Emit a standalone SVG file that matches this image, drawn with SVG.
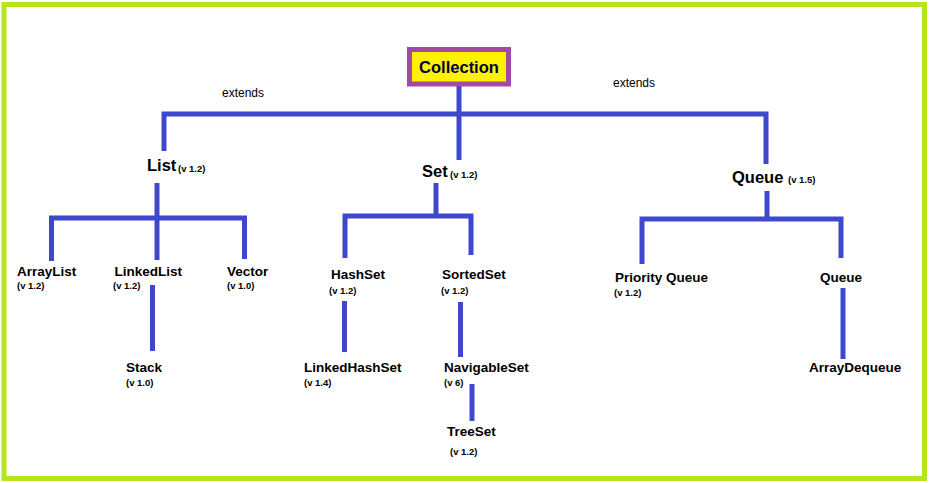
<svg xmlns="http://www.w3.org/2000/svg" width="929" height="483" viewBox="0 0 929 483">
<style>
.frame{fill:#fff;stroke:#b5e61d;stroke-width:5}
.root{fill:#fff200;stroke:#a349a4;stroke-width:5}
.c{fill:none;stroke:#3f48cc;stroke-width:5;stroke-linejoin:miter}
text{font-family:"Liberation Sans",Arial,sans-serif;fill:#000}
.big{font-size:16.5px;font-weight:bold}
.nm{font-size:13.5px;font-weight:bold}
.v{font-size:9.5px;font-weight:bold}
.ext{font-size:12px}
</style>
<rect x="0" y="0" width="929" height="483" fill="#fff"/>
<rect class="frame" x="4" y="4.5" width="920.5" height="474"/>
<g id="connectors">
<path class="c" d="M459 86V160"/>
<path class="c" d="M164 151V114H766V164"/>
<path class="c" d="M157 183V260"/>
<path class="c" d="M51.5 261V218H244.5V259"/>
<path class="c" d="M152.5 285V351"/>
<path class="c" d="M436 183V216"/>
<path class="c" d="M345 258V216H471V255"/>
<path class="c" d="M344.5 301V352"/>
<path class="c" d="M460.5 302V357"/>
<path class="c" d="M472 384V421"/>
<path class="c" d="M767 191V219"/>
<path class="c" d="M642 264V219H841V258"/>
<path class="c" d="M843 288V359"/>
</g>
<g id="labels">
<text class="ext" x="222" y="97">extends</text>
<text class="ext" x="613" y="87">extends</text>
</g>
<g id="collection">
<rect class="root" x="409.5" y="49.5" width="99" height="34.5"/>
<text class="big" x="459" y="73" text-anchor="middle" style="fill:#00003a">Collection</text>
</g>
<g id="list"><text class="big" x="147" y="171">List</text><text class="v" x="178" y="172">(v 1.2)</text></g>
<g id="set"><text class="big" x="422" y="177">Set</text><text class="v" x="450" y="178">(v 1.2)</text></g>
<g id="queue"><text class="big" x="732" y="183">Queue</text><text class="v" x="788" y="183">(v 1.5)</text></g>
<g id="arraylist"><text class="nm" x="17" y="276">ArrayList</text><text class="v" x="17" y="289">(v 1.2)</text></g>
<g id="linkedlist"><text class="nm" x="114.5" y="276">LinkedList</text><text class="v" x="113" y="289">(v 1.2)</text></g>
<g id="vector"><text class="nm" x="227" y="276">Vector</text><text class="v" x="227" y="289">(v 1.0)</text></g>
<g id="stack"><text class="nm" x="126" y="372">Stack</text><text class="v" x="126" y="386">(v 1.0)</text></g>
<g id="hashset"><text class="nm" x="331" y="279">HashSet</text><text class="v" x="329" y="294">(v 1.2)</text></g>
<g id="sortedset"><text class="nm" x="442" y="279">SortedSet</text><text class="v" x="441" y="294">(v 1.2)</text></g>
<g id="linkedhashset"><text class="nm" x="304" y="372">LinkedHashSet</text><text class="v" x="304" y="386">(v 1.4)</text></g>
<g id="navigableset"><text class="nm" x="444" y="372">NavigableSet</text><text class="v" x="444" y="386">(v 6)</text></g>
<g id="treeset"><text class="nm" x="447" y="436">TreeSet</text><text class="v" x="450" y="455">(v 1.2)</text></g>
<g id="priorityqueue"><text class="nm" x="615" y="282">Priority Queue</text><text class="v" x="614" y="296">(v 1.2)</text></g>
<g id="queue2"><text class="nm" x="820" y="282">Queue</text></g>
<g id="arraydequeue"><text class="nm" x="809" y="372">ArrayDequeue</text></g>
</svg>
